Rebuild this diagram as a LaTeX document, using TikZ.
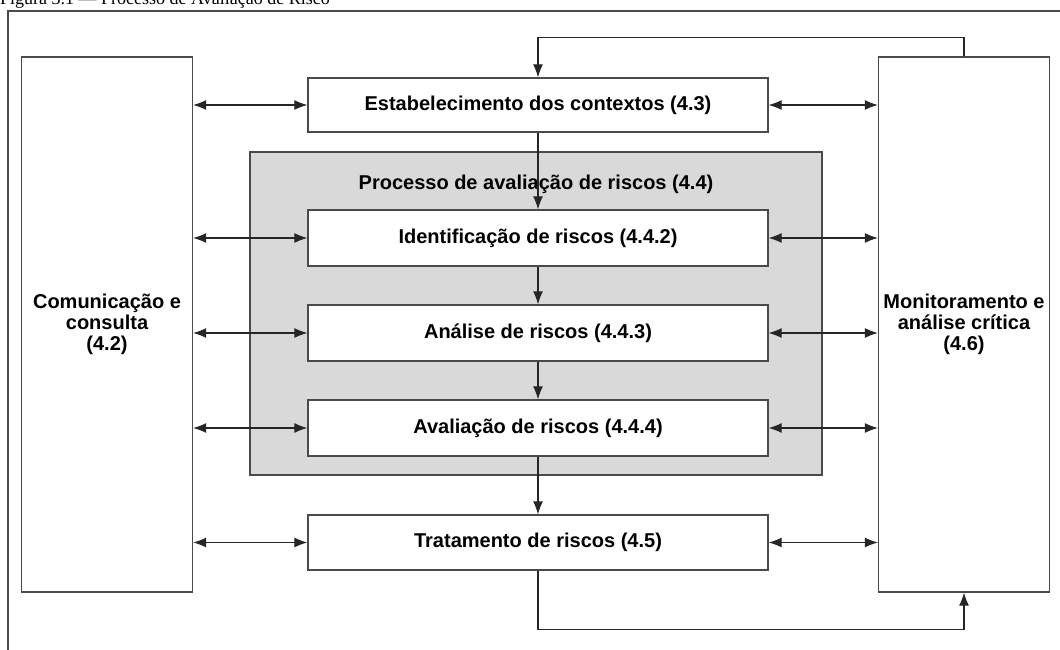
\documentclass[tikz,border=0pt]{standalone}
\usepackage{fontspec}
\setmainfont{Liberation Sans}
\newfontfamily\capfont{Liberation Serif}
\usetikzlibrary{arrows.meta}
\definecolor{linegray}{HTML}{4A4A4A}
\definecolor{panelgray}{HTML}{D9D9D9}
\begin{document}
\begin{tikzpicture}[x=1pt,y=-1pt,
  lbl/.style={font=\bfseries\fontsize{20}{21}\selectfont, text=black},
  stagebox/.style={draw=linegray, line width=1.3pt, fill=white, minimum width=460pt, inner sep=0pt, lbl},
  sidebox/.style={draw=linegray, line width=1.3pt, fill=white, minimum width=171pt, minimum height=535pt, inner sep=0pt, align=center, lbl},
  panel/.style={draw=linegray, line width=1.3pt, fill=panelgray, minimum width=572pt, minimum height=323pt, inner sep=0pt},
  arr/.style={draw=black!85, line width=1.1pt, -{Latex[length=13pt,width=10pt]}},
  dbl/.style={draw=black!85, line width=1.1pt, {Latex[length=13pt,width=10pt]}-{Latex[length=13pt,width=10pt]}},
  frameline/.style={draw=linegray, line width=1.4pt}
]
\useasboundingbox (0,0) rectangle (1060,650);
\clip (0,0) rectangle (1060,650);
\fill[white] (0,0) rectangle (1060,650);

% caption (cut off at the top)
\node[anchor=base west, inner sep=0pt, font=\capfont\fontsize{18}{20}\selectfont] (cap) at (0,5) {Figura 3.1 — Processo de Avaliação de Risco};

% outer frame
\draw[frameline] (8,700) -- (8,11) -- (1100,11);

% side boxes
\node[sidebox] (L) at (107,324.5) {Comunicação e\\consulta\\(4.2)};
\node[sidebox] (R) at (964,324.5) {Monitoramento e\\análise crítica\\(4.6)};

% grey panel
\node[panel] (P) at (536,313.5) {};
\node[lbl] (PT) at (536,184) {Processo de avaliação de riscos (4.4)};

% stage boxes
\node[stagebox, minimum height=54pt] (E) at (538,105) {Estabelecimento dos contextos (4.3)};
\node[stagebox, minimum height=56pt] (I) at (538,238) {Identificação de riscos (4.4.2)};
\node[stagebox, minimum height=56pt] (A) at (538,333) {Análise de riscos (4.4.3)};
\node[stagebox, minimum height=56pt] (V) at (538,428) {Avaliação de riscos (4.4.4)};
\node[stagebox, minimum height=55pt] (T) at (538,542.5) {Tratamento de riscos (4.5)};

% vertical flow
\draw[arr] (E.south) -- (I.north);
\draw[arr] (I.south) -- (A.north);
\draw[arr] (A.south) -- (V.north);
\draw[arr] (V.south) -- (T.north);

% feedback loops
\draw[arr] (R.north) -- ++(0,-19) -| (E.north);
\draw[arr] (T.south) -- ++(0,59) -| (R.south);

% double arrows to side boxes
\foreach \n in {E,I,A,V,T}{
  \draw[dbl] (\n.west -| L.east) -- (\n.west);
  \draw[dbl] (\n.east) -- (\n.east -| R.west);
}
\end{tikzpicture}
\end{document}
